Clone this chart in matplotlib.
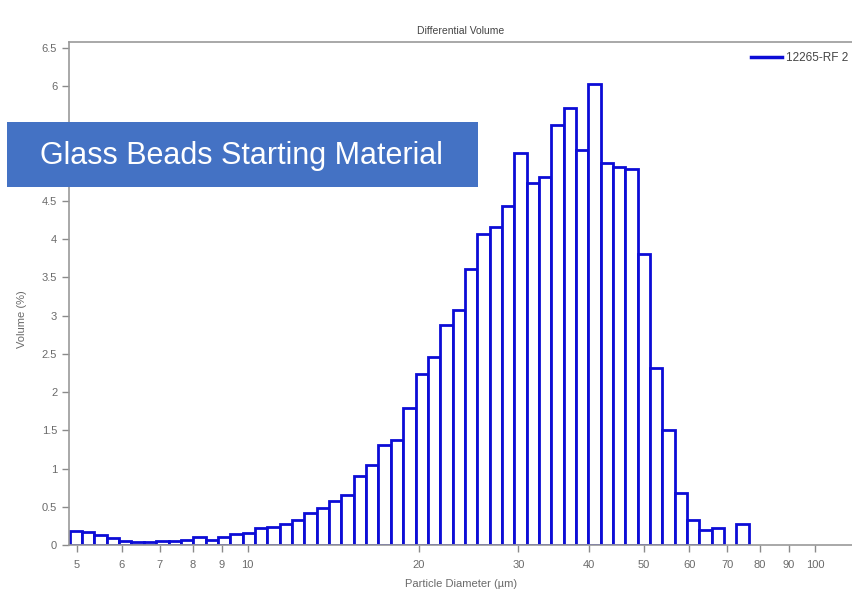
import matplotlib.pyplot as plt
import numpy as np
from matplotlib.lines import Line2D
from matplotlib.patches import Rectangle

plt.rcParams["font.family"] = ["Liberation Sans", "DejaVu Sans"]

# channel edges (um), log spaced as on the instrument
edges = [4.854, 5.104, 5.366, 5.642, 5.932, 6.237, 6.558, 6.895, 7.249, 7.622,
         8.014, 8.426, 8.859, 9.314, 9.793, 10.30, 10.83, 11.38, 11.97, 12.58,
         13.23, 13.91, 14.63, 15.38, 16.17, 17.00, 17.87, 18.79, 19.76, 20.77,
         21.84, 22.96, 24.14, 25.38, 26.69, 28.06, 29.50, 31.02, 32.61, 34.29,
         36.05, 37.90, 39.85, 41.90, 44.05, 46.32, 48.70, 51.20, 53.83, 56.60,
         59.51, 62.57, 65.78, 69.17, 72.72, 76.46]

# differential volume (%) per channel
vol = [0.18, 0.17, 0.13, 0.09, 0.05, 0.04, 0.04, 0.05, 0.05, 0.07,
       0.10, 0.07, 0.10, 0.15, 0.16, 0.22, 0.24, 0.27, 0.33, 0.42,
       0.48, 0.57, 0.65, 0.90, 1.05, 1.31, 1.37, 1.79, 2.24, 2.46,
       2.88, 3.08, 3.61, 4.07, 4.16, 4.44, 5.13, 4.73, 4.81, 5.50,
       5.72, 5.17, 6.03, 5.00, 4.94, 4.92, 3.81, 2.32, 1.51, 0.68,
       0.33, 0.19, 0.22, 0.00, 0.28]

xticks = [5, 6, 7, 8, 9, 10, 20, 30, 40, 50, 60, 70, 80, 90, 100]
yticks = [0, 0.5, 1, 1.5, 2, 2.5, 3, 3.5, 4, 4.5, 5, 5.5, 6, 6.5]
hidden_ylabels = [5, 5.5]  # sit under the banner in the slide
series_name = "12265-RF 2"
banner = "Glass Beads Starting Material"

blue = "#0c0cd6"
grey = "#6a6a6a"

fig = plt.figure(figsize=(8.53, 5.90), dpi=100)
ax = fig.add_axes([0.0809, 0.0763, 0.9191, 0.8525])

e = np.array(edges)
v = np.array(vol)
keep = v > 0
ax.bar(e[:-1][keep], v[keep], width=np.diff(e)[keep], align="edge",
       color="white", edgecolor=blue, linewidth=2.0)

ax.set_xscale("log")
ax.set_xlim(4.84, 116.7)
ax.set_ylim(0, 6.58)
ax.set_xticks(xticks)
ax.set_xticklabels([f"{t:g}" for t in xticks])
ax.xaxis.set_minor_locator(plt.NullLocator())
ax.set_yticks(yticks)
ax.set_yticklabels(["" if t in hidden_ylabels else f"{t:g}" for t in yticks])

for s in ["left", "bottom", "top"]:
    ax.spines[s].set_color("#9a9a9a")
    ax.spines[s].set_linewidth(1.2)
ax.spines["right"].set_visible(False)
ax.tick_params(colors="#8a8a8a", labelcolor=grey, labelsize=8, length=5, width=1)
ax.tick_params(axis="x", pad=6)

ax.set_title("Differential Volume", fontsize=7.5, color="#444444", pad=6)
ax.set_xlabel("Particle Diameter (µm)", fontsize=8, color=grey, labelpad=6)
ax.set_ylabel("Volume (%)", fontsize=8, color=grey)
ax.yaxis.set_label_coords(-0.053, 0.45)

handle = Line2D([], [], color=blue, linewidth=2.5)
fig.legend([handle], [series_name], loc="upper left",
           bbox_to_anchor=(0.868, 0.93), frameon=False, fontsize=8.5,
           handlelength=2.6, handletextpad=0.4, labelcolor="#444444")

# banner overlay
fig.patches.append(Rectangle((0.0082, 0.683), 0.552, 0.110, transform=fig.transFigure,
                             facecolor="#4472c4", edgecolor="none"))
fig.text(0.047, 0.735, banner, fontsize=22, color="white", va="center", ha="left")

plt.savefig("out.png", dpi=100)
